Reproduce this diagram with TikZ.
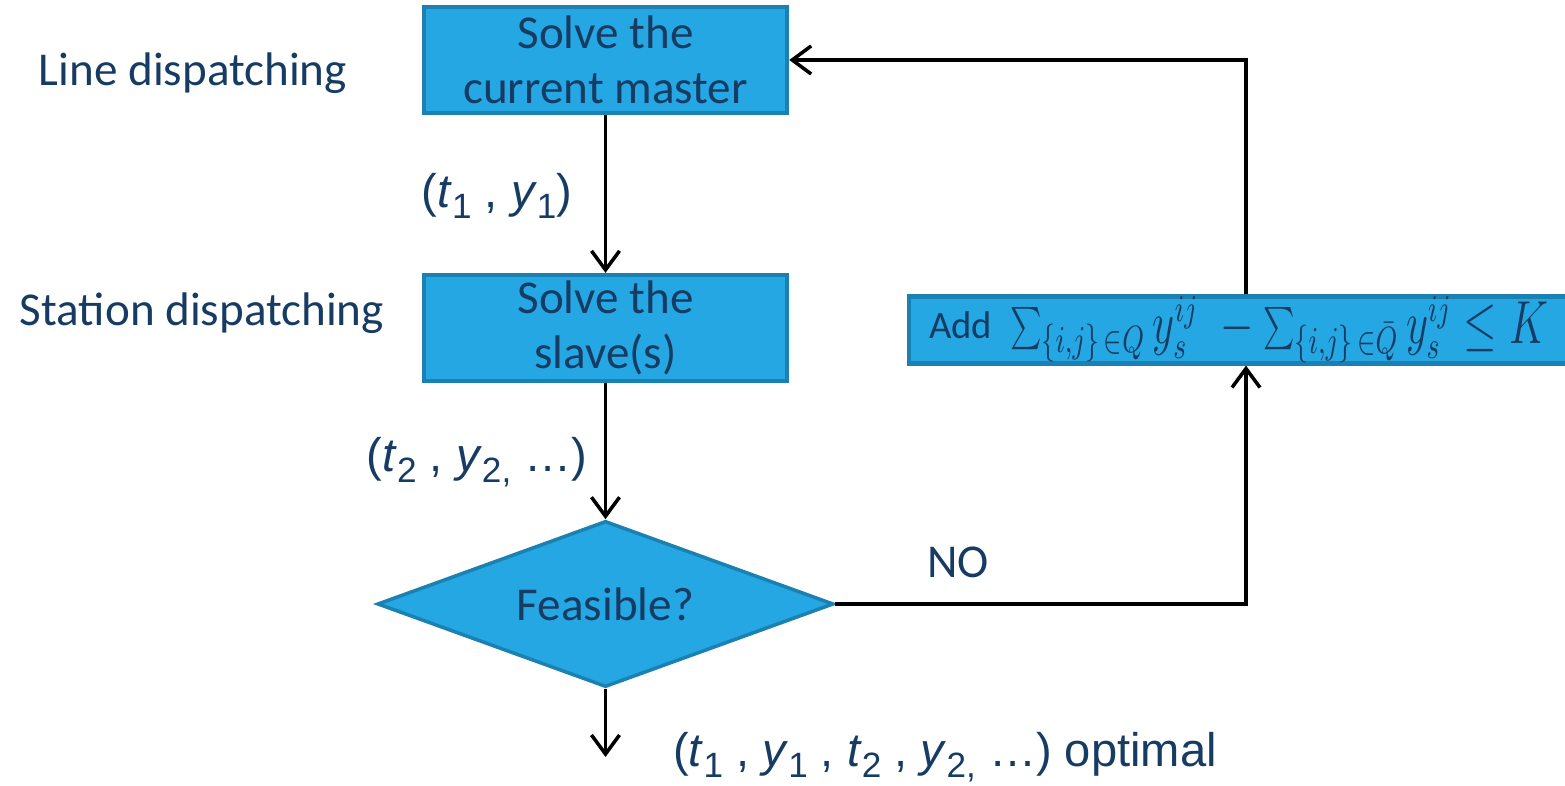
\documentclass[tikz,border=0pt]{standalone}
\usepackage{fontspec}
\setmainfont{Carlito}
\newfontfamily\arialfont{Liberation Sans}
\usetikzlibrary{shapes.geometric,arrows.meta}
\definecolor{boxblue}{HTML}{24A7E2}
\definecolor{edgeblue}{HTML}{1B80B2}
\definecolor{inkblue}{HTML}{173C64}
\newcommand{\lowsub}[1]{\raisebox{-0.45ex}{\fontsize{10}{10}\selectfont #1}}
\tikzset{every path/.style={line width=1pt}}
\tikzset{
  box/.style={rectangle,draw=edgeblue,line width=1.2pt,fill=boxblue,text=inkblue,
    minimum width=3.63cm,minimum height=1.06cm,inner sep=0pt,align=center,
    font=\fontsize{13.4}{15.6}\selectfont},
  test/.style={diamond,draw=edgeblue,line width=1pt,fill=boxblue,text=inkblue,
    minimum width=4.56cm,minimum height=1.66cm,inner sep=0pt,aspect=2.75,
    font=\fontsize{13.4}{15.6}\selectfont},
  lbl/.style={text=inkblue,font=\fontsize{13.4}{15.6}\selectfont},
  sol/.style={text=inkblue,font=\arialfont\fontsize{13.4}{15.6}\selectfont},
  arr/.style={->,>={Straight Barb[length=1.9mm,width=2.8mm]},black}
}

\begin{document}
\begin{tikzpicture}[x=0.01cm,y=-0.01cm]
    \useasboundingbox (0,0) rectangle (1565,786);
    \node[box] (master) at (605.5,60) {Solve the\\current master};
    \node[box] (slave) at (605.5,328) {Solve the\\slave(s)};
    \node[test] (feas) at (605.5,604) {Feasible?};
    \node[box,minimum width=6.65cm,minimum height=0.61cm,anchor=west,
      text width=6.25cm,align=left,font=\fontsize{11}{13}\selectfont] (cut) at (907,330)
      {Add\hspace{0.18cm}\raisebox{-0.3ex}{\scalebox{0.85}[1.2]{\fontsize{13.4}{15}\selectfont$\sum_{\{i,j\}\,\in Q} y_s^{ij}\;-\sum_{\{i,j\}\,\in \bar{Q}} y_s^{ij} \le K$}}};
    \node[lbl] (line) at (193,73) {Line dispatching};
    \node[lbl] (station) at (202,313) {Station dispatching};
    \node[lbl] (no) at (958,562) {NO};
    \node[sol] (sol1) at (497,196) {(\textit{t}\lowsub{1} , \textit{y}\lowsub{1})};
    \node[sol] (sol2) at (477,462) {(\textit{t}\lowsub{2} , \textit{y}\lowsub{2,} …)};
    \node[sol] (opt) at (945,757) {(\textit{t}\lowsub{1} , \textit{y}\lowsub{1} , \textit{t}\lowsub{2} , \textit{y}\lowsub{2,} …) optimal};
    \coordinate (stop) at (605.5,757);
    \coordinate (turn1) at (1246,604);
    \coordinate (turn2) at (1246,60);
    \path[arr] (master) edge (slave);
    \path[arr] (slave) edge (feas);
    \path[arr] (feas) edge (stop);
    \draw[arr] (feas.east) -- (turn1) -- (turn1|-cut.south);
    \draw[arr] (turn2|-cut.north) -- (turn2) -- (master.east);
\end{tikzpicture}
\end{document}
